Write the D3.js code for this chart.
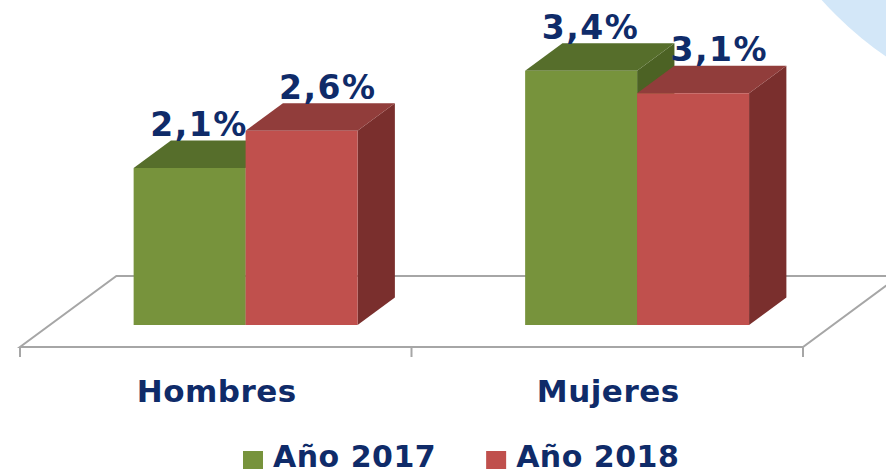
<!DOCTYPE html>
<html>
<head>
<meta charset="utf-8">
<script src="https://cdn.jsdelivr.net/npm/d3@7"></script>
<style>
body { margin: 0; background: #ffffff; }
text { font-family: "DejaVu Sans", Verdana, sans-serif; font-weight: bold; fill: #0f2b69; }
</style>
</head>
<body>
<div id="divcont"></div>
<script>
var wd = 886
var ht = 475

// data
var categories = ["Hombres", "Mujeres"]
var series = ["Año 2017", "Año 2018"]
var values2017 = [2.1, 3.4]
var values2018 = [2.6, 3.1]
var yTicks = [0, 4] // value range of the (hidden) vertical axis

var frontCol = ["#77933c", "#c0504d"]
var topCol = ["#566e2b", "#913d3b"]
var sideCol = ["#4c6224", "#7a2f2d"]

// oblique 3d projection
var kx = 1.357 // horizontal shift per unit of depth
var floorDepth = 71
var barZ0 = 22
var barZ1 = 49.5
function proj(x, y, z) { return [x + z * kx, y - z] }

var svg = d3.select("#divcont")
  .append("svg")
  .attr("width", wd)
  .attr("height", ht)

// light blue decoration top right
svg.append("circle")
  .attr("cx", 1090)
  .attr("cy", -240)
  .attr("r", 360)
  .attr("fill", "#d3e7f8")

var xScale = d3.scaleBand()
  .domain(categories)
  .range([20, 803])

var inner = xScale.bandwidth() * 0.572
var xSub = d3.scaleBand()
  .domain(series)
  .range([0, inner])

var yScale = d3.scaleLinear()
  .domain(yTicks)
  .range([347, 48])

var fmt = d3.formatLocale({decimal: ",", thousands: ".", grouping: [3], currency: ["", "€"]}).format(".1f")

// floor
var y0 = yScale(0)
var x0 = xScale.range()[0], x1 = xScale.range()[1]
var floorPts = [proj(x0, y0, 0), proj(x1, y0, 0), proj(x1, y0, floorDepth), proj(x0, y0, floorDepth)]
svg.append("path")
  .attr("d", "M" + floorPts.join("L") + "Z")
  .attr("fill", "none")
  .attr("stroke", "#a6a6a6")
  .attr("stroke-width", 2)

var tickX = categories.map(function(c) { return xScale(c) }).concat([x1])
svg.selectAll("tickln")
  .data(tickX)
  .enter()
  .append("line")
  .attr("x1", function(d) { return d })
  .attr("x2", function(d) { return d })
  .attr("y1", y0)
  .attr("y2", y0 + 10)
  .attr("stroke", "#a6a6a6")
  .attr("stroke-width", 2)

// bars, left to right so the nearer faces cover the sides
var bars = []
categories.forEach(function(c, i) {
  [values2017[i], values2018[i]].forEach(function(v, s) {
    bars.push({cat: c, s: s, v: v})
  })
})

var barG = svg.append("g")
bars.forEach(function(d) {
  var bx0 = xScale(d.cat) + (xScale.bandwidth() - inner) / 2 + xSub(series[d.s])
  var bx1 = bx0 + xSub.bandwidth()
  var yt = yScale(d.v)
  var yb = yScale(0)
  var front = [proj(bx0, yt, barZ0), proj(bx1, yt, barZ0), proj(bx1, yb, barZ0), proj(bx0, yb, barZ0)]
  var top = [proj(bx0, yt, barZ0), proj(bx1, yt, barZ0), proj(bx1, yt, barZ1), proj(bx0, yt, barZ1)]
  var side = [proj(bx1, yt, barZ0), proj(bx1, yt, barZ1), proj(bx1, yb, barZ1), proj(bx1, yb, barZ0)]
  barG.append("path").attr("d", "M" + side.join("L") + "Z").attr("fill", sideCol[d.s])
  barG.append("path").attr("d", "M" + top.join("L") + "Z").attr("fill", topCol[d.s])
  barG.append("path").attr("d", "M" + front.join("L") + "Z").attr("fill", frontCol[d.s])
  d.lx = (front[0][0] + front[1][0]) / 2 + (barZ1 - barZ0) * kx * (0.25 + 0.45 * d.s)
  d.ly = front[0][1] - 32
})

// value labels
svg.selectAll("vlab")
  .data(bars)
  .enter()
  .append("text")
  .attr("x", function(d) { return d.lx })
  .attr("y", function(d) { return d.ly })
  .attr("text-anchor", "middle")
  .style("font-size", "33px")
  .style("letter-spacing", "1.5px")
  .text(function(d) { return fmt(d.v) + "%" })

// category labels
svg.selectAll("clab")
  .data(categories)
  .enter()
  .append("text")
  .attr("x", function(d) { return xScale(d) + xScale.bandwidth() / 2 + 1 })
  .attr("y", 402)
  .attr("text-anchor", "middle")
  .style("font-size", "31px")
  .style("letter-spacing", "0.5px")
  .text(function(d) { return d })

// legend
var legG = svg.append("g")
var lx = 243
series.forEach(function(s, i) {
  legG.append("rect")
    .attr("x", lx)
    .attr("y", 451)
    .attr("width", 20)
    .attr("height", 18)
    .attr("fill", frontCol[i])
  var t = legG.append("text")
    .attr("x", lx + 30)
    .attr("y", 467)
    .style("font-size", "30px")
    .style("letter-spacing", "0.5px")
    .text(s)
  lx = lx + 30 + t.node().getComputedTextLength() + 50
})
</script>
</body>
</html>
